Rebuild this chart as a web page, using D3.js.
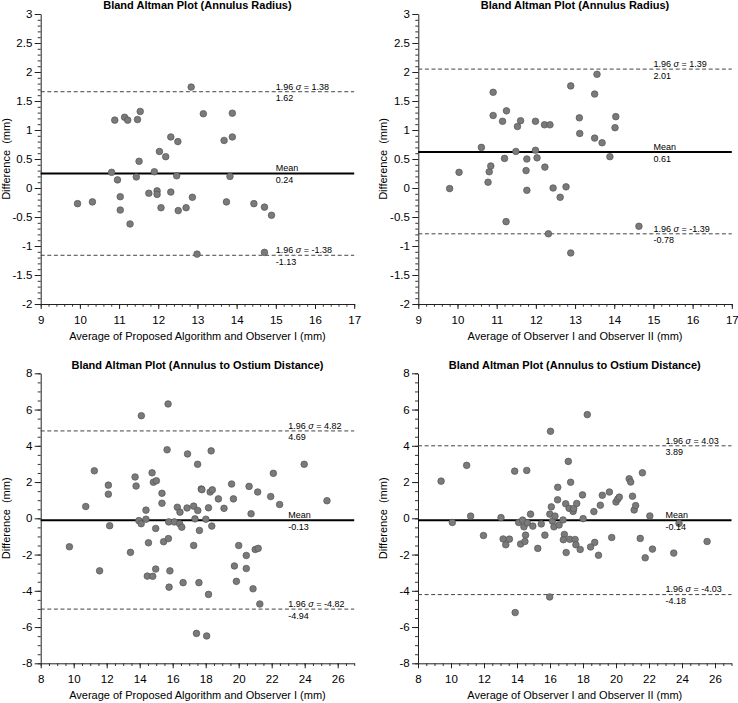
<!DOCTYPE html>
<html>
<head>
<meta charset="utf-8">
<script src="https://cdn.jsdelivr.net/npm/d3@7"></script>
<style>
  html, body { margin: 0; padding: 0; background: #fff; }
  svg { display: block; font-family: "Liberation Sans", Arial, sans-serif; }
</style>
</head>
<body>
<svg id="chart" width="738" height="703"></svg>
<script>
// ---------- DATA ----------
// Panel A: Annulus Radius, Proposed Algorithm vs Observer I
const radiusAlgX = [9.94,10.32,10.81,10.89,10.96,11.03,11.03,11.14,11.22,11.28,11.44,11.47,11.51,11.54,11.76,11.90,11.97,11.97,12.03,12.07,12.19,12.32,12.32,12.47,12.50,12.51,12.71,12.84,12.87,12.99,13.15,13.68,13.74,13.83,13.89,13.89,14.44,14.71,14.71,14.89];
const radiusAlgY = [-0.27,-0.24,0.27,1.17,0.14,-0.15,-0.38,1.22,1.17,-0.62,0.19,1.18,0.46,1.32,-0.09,0.28,-0.05,-0.11,0.63,-0.34,0.54,0.88,-0.07,0.21,0.80,-0.39,-0.34,1.74,-0.16,-1.14,1.28,0.82,-0.24,0.20,0.88,1.29,-0.27,-0.33,-1.11,-0.47];
const radiusAlgLines = [1.66, 0.25, -1.16];
const radiusAlgTop = ["1.96 σ = 1.38", "Mean", "1.96 σ = -1.38"];
const radiusAlgBottom = ["1.62", "0.24", "-1.13"];

// Panel B: Annulus Radius, Observer I vs Observer II
const radiusObsX = [9.80,10.04,10.61,10.78,10.81,10.85,10.91,10.91,11.15,11.20,11.24,11.25,11.49,11.53,11.61,11.75,11.77,11.77,11.99,11.99,12.03,12.22,12.23,12.32,12.36,12.44,12.62,12.77,12.89,12.89,13.11,13.12,13.50,13.50,13.56,13.69,13.89,14.02,14.04,14.63];
const radiusObsY = [-0.01,0.27,0.70,0.10,0.28,0.38,1.65,1.25,1.15,0.51,-0.58,1.33,0.63,1.06,1.16,0.30,0.50,-0.04,1.15,0.65,0.52,1.09,0.36,-0.79,1.09,0.00,-0.16,0.02,1.76,-1.12,1.21,0.94,1.62,0.86,1.96,0.78,0.54,1.04,1.23,-0.66];
const radiusObsLines = [2.05, 0.62, -0.79];
const radiusObsTop = ["1.96 σ = 1.39", "Mean", "1.96 σ = -1.39"];
const radiusObsBottom = ["2.01", "0.61", "-0.78"];

// Panel C: Annulus to Ostium Distance, Proposed Algorithm vs Observer I
const ostiumAlgX = [9.74,10.73,11.25,11.57,12.10,12.10,12.18,13.44,13.72,13.78,14.10,13.95,14.09,14.38,14.38,14.53,14.46,14.75,14.83,15.01,14.79,14.97,14.97,15.35,15.35,15.45,15.74,15.72,15.66,15.76,15.83,15.78,16.10,16.28,16.44,16.42,16.55,16.63,16.87,16.90,17.27,17.27,17.35,17.51,17.59,17.44,17.52,17.62,17.73,17.77,18.01,18.17,18.17,18.27,18.33,18.40,18.37,18.06,18.77,19.11,19.57,19.68,19.74,19.86,20.00,20.46,20.46,20.63,20.75,20.87,21.00,21.15,21.18,21.28,21.94,22.10,22.48,23.97,25.35];
const ostiumAlgY = [-1.57,0.65,2.62,-2.90,1.83,1.33,-0.41,-1.88,2.28,1.78,5.66,-0.13,-0.30,0.45,-0.05,-1.35,-3.19,2.51,1.99,2.07,-3.20,-2.80,-0.56,1.38,0.83,-1.29,-1.12,6.31,3.78,-0.20,-2.90,-3.80,-0.20,0.61,0.34,-0.30,-0.49,-3.55,0.57,3.55,0.67,-1.50,-0.03,2.98,-3.55,-6.35,0.43,-0.67,1.62,1.58,-0.05,0.58,-4.20,1.45,3.72,1.57,-0.43,-6.49,1.07,0.55,1.89,1.07,-2.63,-3.48,-1.50,-2.05,-2.77,1.76,0.25,-3.89,-1.72,1.45,-1.66,-4.73,1.20,2.48,0.76,2.98,0.97];
const ostiumAlgLines = [4.82, -0.11, -5.01];
const ostiumAlgTop = ["1.96 σ = 4.82", "Mean", "1.96 σ = -4.82"];
const ostiumAlgBottom = ["4.69", "-0.13", "-4.94"];

// Panel D: Annulus to Ostium Distance, Observer I vs Observer II
const ostiumObsX = [9.40,10.08,10.95,11.19,11.97,13.03,13.16,13.32,13.54,13.86,13.89,14.10,14.34,14.42,14.22,14.48,14.52,14.59,14.62,14.82,14.96,15.26,15.47,15.69,15.98,16.03,16.08,15.99,16.15,16.30,16.24,16.46,16.47,16.55,16.79,16.87,16.81,16.98,16.95,17.11,17.16,17.25,17.20,17.40,17.44,17.52,17.57,17.62,17.83,18.01,17.97,18.26,18.66,18.46,18.71,18.94,19.05,19.17,19.60,19.74,20.00,20.11,20.20,20.80,20.89,21.00,21.10,21.19,21.47,21.60,21.77,22.05,22.21,23.50,23.82,25.52];
const ostiumObsY = [2.05,-0.23,2.92,0.12,-0.95,0.04,-1.14,-1.46,-1.15,2.60,-5.20,-0.23,-0.10,-0.47,-1.42,-1.28,-0.93,2.64,-0.25,0.23,-0.43,-1.66,-0.31,-0.93,-4.34,4.80,0.63,0.23,-0.16,0.12,-0.47,1.02,1.71,-0.37,-0.09,-0.89,-1.18,-1.89,0.80,3.14,0.55,1.99,-1.16,0.38,0.54,-1.17,-1.46,0.82,-1.72,-0.02,1.29,5.72,0.37,-1.58,-1.33,-2.04,0.72,1.27,1.45,-1.06,0.90,1.06,1.17,2.18,2.00,1.22,0.46,0.70,-1.11,2.51,-2.18,0.13,-1.70,-1.92,-0.28,-1.28];
const ostiumObsLines = [4.00, -0.11, -4.21];
const ostiumObsTop = ["1.96 σ = 4.03", "Mean", "1.96 σ = -4.03"];
const ostiumObsBottom = ["3.89", "-0.14", "-4.18"];

// Axis ticks
const radiusXTicks = [9, 10, 11, 12, 13, 14, 15, 16, 17];
const radiusYTicks = [-2, -1.5, -1, -0.5, 0, 0.5, 1, 1.5, 2, 2.5, 3];
const ostiumXTicks = [8, 10, 12, 14, 16, 18, 20, 22, 24, 26];
const ostiumYTicks = [-8, -6, -4, -2, 0, 2, 4, 6, 8];

const titleRadius = "Bland Altman Plot (Annulus Radius)";
const titleOstium = "Bland Altman Plot (Annulus to Ostium Distance)";
const xTitleAlg = "Average of Proposed Algorithm and Observer I (mm)";
const xTitleObs = "Average of Observer I and Observer II (mm)";
const yTitle = "Difference\u00a0 (mm)";

// ---------- LAYOUT ----------
const W = 313.5, H = 290;
const panels = [
  { left: 40.7, top: 14, xs: radiusAlgX, ys: radiusAlgY, lines: radiusAlgLines, topLab: radiusAlgTop, botLab: radiusAlgBottom,
    xDom: [9, 17], yDom: [-2, 3], xT: radiusXTicks, yT: radiusYTicks, xMinor: 0.2, yMinor: 0.1, labX: 15,
    title: titleRadius, xTitle: xTitleAlg },
  { left: 418.3, top: 14, xs: radiusObsX, ys: radiusObsY, lines: radiusObsLines, topLab: radiusObsTop, botLab: radiusObsBottom,
    xDom: [9, 17], yDom: [-2, 3], xT: radiusXTicks, yT: radiusYTicks, xMinor: 0.2, yMinor: 0.1, labX: 15,
    title: titleRadius, xTitle: xTitleObs },
  { left: 40.7, top: 373.3, xs: ostiumAlgX, ys: ostiumAlgY, lines: ostiumAlgLines, topLab: ostiumAlgTop, botLab: ostiumAlgBottom,
    xDom: [8, 27], yDom: [-8, 8], xT: ostiumXTicks, yT: ostiumYTicks, xMinor: 0.5, yMinor: 0.5, labX: 23,
    title: titleOstium, xTitle: xTitleAlg },
  { left: 418.0, top: 373.3, xs: ostiumObsX, ys: ostiumObsY, lines: ostiumObsLines, topLab: ostiumObsTop, botLab: ostiumObsBottom,
    xDom: [8, 27], yDom: [-8, 8], xT: ostiumXTicks, yT: ostiumYTicks, xMinor: 0.5, yMinor: 0.5, labX: 23,
    title: titleOstium, xTitle: xTitleObs }
];

const svg = d3.select("#chart");
const fmt = d => String(d);

panels.forEach(p => {
  const g = svg.append("g").attr("transform", `translate(${p.left},${p.top})`);
  const x = d3.scaleLinear().domain(p.xDom).range([0, W]);
  const y = d3.scaleLinear().domain(p.yDom).range([H, 0]);

  // minor ticks
  const xMinorVals = d3.range(p.xDom[0], p.xDom[1] + 1e-6, p.xMinor);
  const yMinorVals = d3.range(p.yDom[0], p.yDom[1] + 1e-6, p.yMinor);
  g.append("g").attr("transform", `translate(0,${H})`)
    .call(d3.axisBottom(x).tickValues(xMinorVals).tickSize(2.7).tickFormat(""))
    .call(a => a.select(".domain").remove())
    .selectAll("line").attr("stroke", "#333");
  g.append("g")
    .call(d3.axisLeft(y).tickValues(yMinorVals).tickSize(3).tickFormat(""))
    .call(a => a.select(".domain").remove())
    .selectAll("line").attr("stroke", "#333");

  // major axes
  const xa = g.append("g").attr("transform", `translate(0,${H})`)
    .call(d3.axisBottom(x).tickValues(p.xT).tickSize(5).tickPadding(6.5).tickSizeOuter(0).tickFormat(fmt));
  const ya = g.append("g")
    .call(d3.axisLeft(y).tickValues(p.yT).tickSize(6).tickPadding(2.4).tickSizeOuter(0).tickFormat(fmt));
  [xa, ya].forEach(a => {
    a.select(".domain").attr("stroke", "#222");
    a.selectAll("line").attr("stroke", "#222");
    a.selectAll("text").attr("fill", "#000").style("font-size", "11.5px")
      .style("font-family", '"Liberation Sans", Arial, sans-serif');
  });

  // reference lines
  p.lines.forEach((v, i) => {
    g.append("line")
      .attr("x1", 0).attr("x2", W)
      .attr("y1", y(v)).attr("y2", y(v))
      .attr("stroke", i === 1 ? "#000" : "#444")
      .attr("stroke-width", i === 1 ? 2 : 1)
      .attr("stroke-dasharray", i === 1 ? null : "4,2.6");
  });

  // points
  g.append("g").selectAll("circle")
    .data(p.xs.map((v, i) => [v, p.ys[i]]))
    .join("circle")
    .attr("cx", d => x(d[0]))
    .attr("cy", d => y(d[1]))
    .attr("r", 3.3)
    .attr("fill", "#7a7a7a")
    .attr("stroke", "#555")
    .attr("stroke-width", 0.7);

  // line labels
  p.lines.forEach((v, i) => {
    const t = g.append("text")
      .attr("x", x(p.labX)).attr("y", y(v) - 2.2)
      .style("font-size", "9px").attr("fill", "#000");
    const parts = p.topLab[i].split("σ");
    if (parts.length > 1) {
      t.append("tspan").text(parts[0]);
      t.append("tspan").style("font-style", "italic").text("σ");
      t.append("tspan").text(parts[1]);
    } else {
      t.text(p.topLab[i]);
    }
    g.append("text")
      .attr("x", x(p.labX)).attr("y", y(v) + 9.5)
      .style("font-size", "9px").attr("fill", "#000")
      .text(p.botLab[i]);
  });

  // titles
  g.append("text")
    .attr("x", W / 2).attr("y", -4.8)
    .attr("text-anchor", "middle")
    .style("font-size", "11px").style("font-weight", "bold")
    .text(p.title);
  g.append("text")
    .attr("x", W / 2).attr("y", H + 36)
    .attr("text-anchor", "middle")
    .style("font-size", "11px")
    .text(p.xTitle);
  g.append("text")
    .attr("transform", `translate(-31,${H / 2}) rotate(-90)`)
    .attr("text-anchor", "middle")
    .style("font-size", "11px")
    .text(yTitle);
});
</script>
</body>
</html>
